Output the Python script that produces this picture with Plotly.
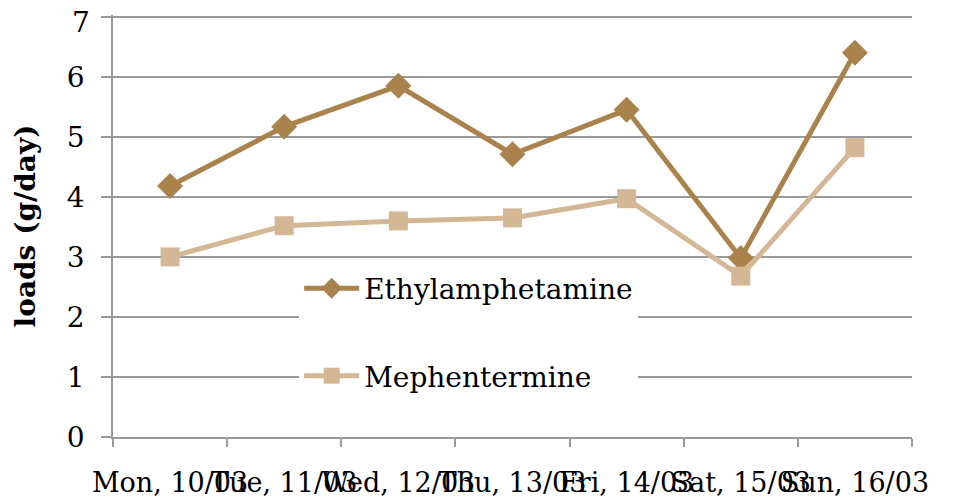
import plotly.graph_objects as go

days = ["Mon, 10/03", "Tue, 11/03", "Wed, 12/03", "Thu, 13/03", "Fri, 14/03", "Sat, 15/03", "Sun, 16/03"]
ethylamphetamine = [4.18, 5.17, 5.85, 4.71, 5.45, 2.98, 6.40]
mephentermine = [3.00, 3.52, 3.60, 3.65, 3.97, 2.68, 4.82]
y_ticks = [0, 1, 2, 3, 4, 5, 6, 7]

FONT = "DejaVu Serif"
FS = 28
C_ETH = "#A9834B"
C_MEP = "#D4B795"
GRID = "#9A9A9A"

fig = go.Figure()
fig.add_trace(go.Scatter(
    x=days, y=ethylamphetamine, name="Ethylamphetamine", mode="lines+markers",
    line=dict(color=C_ETH, width=5),
    marker=dict(symbol="diamond", size=20, color=C_ETH),
    legendgroup="a",
))
fig.add_trace(go.Scatter(
    x=days, y=mephentermine, name="Mephentermine", mode="lines+markers",
    line=dict(color=C_MEP, width=5),
    marker=dict(symbol="square", size=19, color=C_MEP),
    legendgroup="b",
))

# top tick label drawn as annotation (it would otherwise be hidden at the page edge)
tick_text = [str(v) for v in y_ticks[:-1]] + [""]
fig.add_annotation(
    x=0, xref="paper", y=y_ticks[-1], yref="y", text=str(y_ticks[-1]),
    showarrow=False, xanchor="right", yanchor="middle", xshift=-21, yshift=-6,
    font=dict(family=FONT, size=FS, color="black"),
)

fig.update_layout(
    width=953, height=503,
    margin=dict(l=105, r=49, t=7, b=74),
    paper_bgcolor="white", plot_bgcolor="white",
    font=dict(family=FONT, size=FS, color="black"),
    showlegend=True,
    legend=dict(
        x=0.233, y=0.411, xanchor="left", yanchor="top",
        bgcolor="white", font=dict(family=FONT, size=FS),
        tracegroupgap=48, traceorder="grouped",
        itemwidth=55,
    ),
    xaxis=dict(
        type="category", tickson="boundaries", ticks="outside", ticklen=8,
        tickcolor=GRID, tickwidth=1.5, showgrid=False,
        showline=True, linecolor=GRID, linewidth=1.5,
        tickangle=0, tickfont=dict(family=FONT, size=27),
        ticklabelstandoff=21,
        range=[-0.5, 6.5], automargin=False,
    ),
    yaxis=dict(
        range=[0, 7.03], tickvals=y_ticks, ticktext=tick_text, ticks="outside", ticklen=10,
        tickcolor=GRID, tickwidth=1.5,
        showgrid=True, gridcolor=GRID, gridwidth=1.5,
        showline=True, linecolor=GRID, linewidth=1.5,
        zeroline=False, ticklabelstandoff=11,
        tickfont=dict(family=FONT, size=FS),
        automargin=False,
        title=dict(text="<b>loads (g/day)</b>", font=dict(family=FONT, size=FS), standoff=23),
    ),
)

fig.write_html("out.html")
